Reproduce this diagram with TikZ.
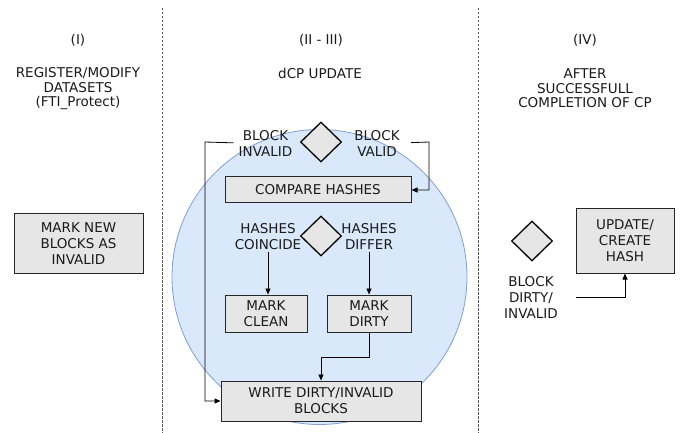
\documentclass[tikz,border=0pt]{standalone}
\usepackage{fontspec}
\setmainfont{DejaVu Sans}
\usetikzlibrary{shapes.geometric,arrows.meta}
\definecolor{boxfill}{HTML}{E6E6E6}
\definecolor{circfill}{HTML}{DAE8FC}
\definecolor{circline}{HTML}{7F9FCF}
\definecolor{txt}{HTML}{1A1A1A}
\begin{document}
\begin{tikzpicture}[x=1pt,y=-1pt,
  every node/.style={font=\fontsize{13.5}{16}\selectfont, text=txt, align=center, inner sep=0pt},
  head/.style={font=\fontsize{13.5}{14.5}\selectfont},
  box/.style={draw=black!85, fill=boxfill, line width=1pt, rectangle},
  dia/.style={diamond, draw=black, fill=boxfill, line width=1.3pt, minimum width=41pt, minimum height=40pt, inner sep=0pt},
  conn/.style={draw=black, line width=0.8pt},
  arr/.style={conn, -{Triangle[length=6pt,width=5pt]}},
  sep/.style={draw=black!65, dash pattern=on 2.5pt off 1.5pt, line width=0.8pt}]
\useasboundingbox (0,0) rectangle (694,433);
% separators
\coordinate (s1t) at (162,8); \coordinate (s1b) at (162,433);
\coordinate (s2t) at (478,8); \coordinate (s2b) at (478,433);
\draw[sep] (s1t) -- (s1b);
\draw[sep] (s2t) -- (s2b);
% headers
\node (h1) at (78,40) {(I)};
\node[head] (h1b) at (78,89) {REGISTER/MODIFY\\DATASETS\\(FTI\_Protect)};
\node (h2) at (321,40) {(II - III)};
\node (h2b) at (320,73) {dCP UPDATE};
\node (h3) at (585,40) {(IV)};
\node[head] (h3b) at (585,88.5) {AFTER\\SUCCESSFULL\\COMPLETION OF CP};
% left box
\node[box, minimum width=129pt, minimum height=59pt] (mark) at (78.5,243.5) {MARK NEW\\BLOCKS AS\\INVALID};
% circle
\node[circle, draw=circline, fill=circfill, line width=0.8pt, minimum size=295pt] (circ) at (319.5,277) {};
% middle
\node[dia] (d1) at (321,142) {};
\node (inv) at (265.5,143) {BLOCK\\INVALID};
\node (val) at (377,143) {BLOCK\\VALID};
\node[box, minimum width=186pt, minimum height=26pt] (cmp) at (318,190) {COMPARE HASHES};
\node[dia] (d2) at (321,236) {};
\node (coin) at (268,236.5) {HASHES\\COINCIDE};
\node (dif) at (369,236.5) {HASHES\\DIFFER};
\node[box, minimum width=82pt, minimum height=37pt] (clean) at (266,313.5) {MARK\\CLEAN};
\node[box, minimum width=84pt, minimum height=37pt] (dirty) at (369,313.5) {MARK\\DIRTY};
\node[box, minimum width=200pt, minimum height=40pt] (write) at (321,401) {WRITE DIRTY/INVALID\\BLOCKS};
\coordinate (lc) at (205,142);
\coordinate (rc) at (429,142);
\draw[arr, shorten <=5pt] (inv.west) -- (lc) |- (write.west);
\draw[arr, shorten <=11pt] (val.east) -- (rc) |- (cmp.east);
\draw[arr, shorten <=2pt] (coin.south) -- (coin.south |- clean.north);
\draw[arr, shorten <=2pt] (dif.south) -- (dif.south |- dirty.north);
\draw[arr] (dirty.south) -- ++(0,25) -| (write.north);
% right
\node[dia] (d3) at (532,241) {};
\node (bdi) at (531,297.5) {BLOCK\\DIRTY/\\INVALID};
\node[box, minimum width=98pt, minimum height=64pt] (upd) at (625,241) {UPDATE/\\CREATE\\HASH};
\coordinate (s3) at (576,297);
\draw[arr] (s3) -| (upd.south);
\end{tikzpicture}
\end{document}
